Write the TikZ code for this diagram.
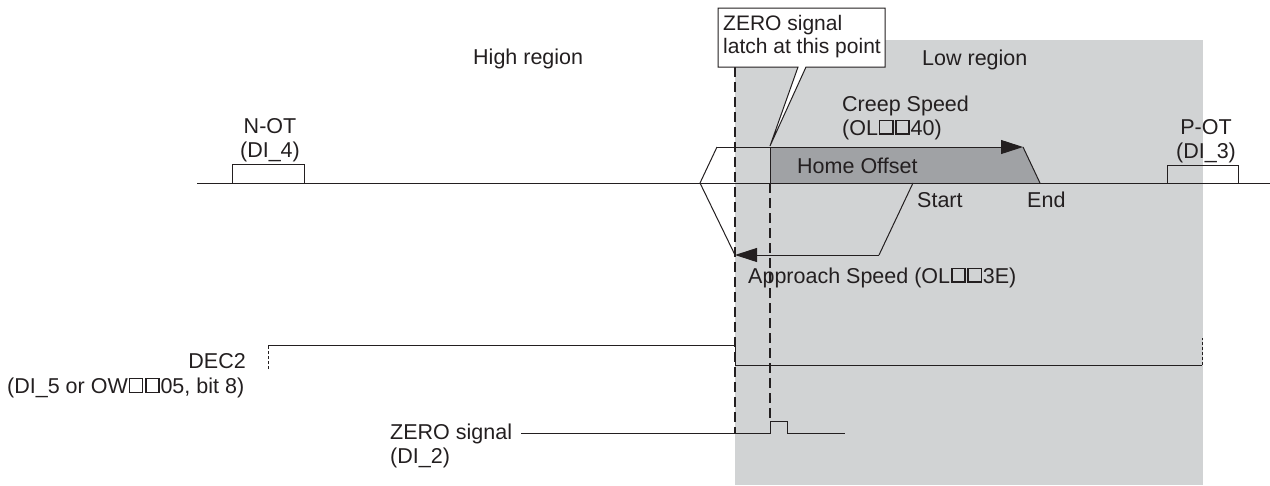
\documentclass[tikz,border=0pt]{standalone}
\usepackage{fontspec}
\setmainfont{Liberation Sans}
\usetikzlibrary{arrows.meta}
\definecolor{ink}{HTML}{231F20}
\definecolor{lowgray}{HTML}{D1D3D4}
\definecolor{offgray}{HTML}{A0A2A5}
\newcommand{\bx}{\hbox to 0.76em{\hss\vbox{\hrule height 0.07em\hbox{\vrule width 0.07em height 0.56em depth 0pt\kern0.54em\vrule width 0.07em height 0.56em depth 0pt}\hrule height 0.07em}\hss}}
\tikzset{
  txt/.style={font=\fontsize{21.5}{24}\selectfont, inner sep=0pt, text=ink},
  ctxt/.style={font=\fontsize{21}{24}\selectfont, inner sep=0pt, text=ink},
  sig/.style={draw=ink, line width=1pt},
  guide/.style={draw=ink, line width=1.8pt, dash pattern=on 10pt off 5pt},
  guideb/.style={draw=ink, line width=1.5pt, dash pattern=on 10pt off 5pt},
  stub/.style={draw=ink, line width=0.9pt, dash pattern=on 3pt off 2pt},
  tip/.style={-{Triangle[length=22pt,width=14pt]}}
}
\begin{document}
\begin{tikzpicture}[x=1pt,y=-1pt]
\useasboundingbox (0,0) rectangle (1270,485);
% low region background
\fill[lowgray] (735,40) rectangle (1203,485);
% home offset area
\fill[offgray] (770,147) -- (1023,147) -- (1040,183) -- (770,183) -- cycle;
% key coordinates
\coordinate (axL) at (197,183);
\coordinate (axR) at (1270,183);
\coordinate (cL) at (700,183);
\coordinate (cTL) at (717,147);
\coordinate (cTR) at (1023,147);
\coordinate (cR) at (1040,183);
\coordinate (hoT) at (770,147);
\coordinate (hoB) at (770,183);
\coordinate (aS) at (913,183);
\coordinate (aK) at (879,255);
\coordinate (aT) at (735,255);
% axis
\draw[sig] (axL) -- (axR);
% N-OT / P-OT boxes
\draw[sig] (232,183) -- (232,164) -- (304,164) -- (304,183);
\draw[sig] (1167,183) -- (1167,165) -- (1238,165) -- (1238,183);
% creep speed profile
\draw[sig] (cL) -- (cTL);
\draw[sig,tip] (cTL) -- (cTR);
\draw[sig] (cTR) -- (cR);
\draw[sig] (hoT) -- (hoB);
% approach speed profile
\draw[sig] (aS) -- (aK);
\draw[sig,tip] (aK) -- (aT);
\draw[sig] (aT) -- (cL);
% dashed guides
\coordinate (g1T) at (735,67);
\coordinate (g1B) at (735,433);
\coordinate (g2T) at (770,183);
\coordinate (g2B) at (770,421);
\draw[guide] (g1T) -- (g1B);
\draw[guideb] (g2T) -- (g2B);
% DEC2 signal
\draw[stub] (268,369) -- (268,345);
\draw[sig] (268,345) -- (735,345) -- (735,365) -- (1202,365);
\draw[stub] (1202,365) -- (1202,338);
% ZERO signal
\draw[sig] (521,433) -- (770,433) -- (770,421) -- (787,421) -- (787,433) -- (845,433);
% callout
\draw[sig, fill=white] (718,8) -- (885,8) -- (885,67) -- (806,67) -- (770,146) -- (798,67) -- (718,67) -- cycle;
\node[ctxt, anchor=base west] (c1) at (723,30) {ZERO signal};
\node[ctxt, anchor=base west] (c2) at (723,53) {latch at this point};
% labels
\node[txt, anchor=base west] (high) at (473,64) {High region};
\node[txt, anchor=base west] (low) at (922,65) {Low region};
\node[txt, anchor=base] (not1) at (270,133) {N-OT};
\node[txt, anchor=base] (not2) at (270,157) {(DI\_4)};
\node[txt, anchor=base] (pot1) at (1206,134) {P-OT};
\node[txt, anchor=base] (pot2) at (1206,158) {(DI\_3)};
\node[txt, anchor=base west] (cr1) at (842,111) {Creep Speed};
\node[txt, anchor=base west] (cr2) at (842,135) {(OL\bx\bx40)};
\node[txt, anchor=base west] (ho) at (797,173) {Home Offset};
\node[txt, anchor=base west] (st) at (917,207) {Start};
\node[txt, anchor=base west] (en) at (1027,207) {End};
\node[txt, anchor=base west] (ap) at (748,283) {Approach Speed (OL\bx\bx3E)};
\node[txt, anchor=base east] (d1) at (246,368) {DEC2};
\node[txt, anchor=base west] (d2) at (7,393) {(DI\_5 or OW\bx\bx05, bit 8)};
\node[txt, anchor=base west] (z1) at (390,439) {ZERO signal};
\node[txt, anchor=base west] (z2) at (390,463) {(DI\_2)};
\end{tikzpicture}
\end{document}
